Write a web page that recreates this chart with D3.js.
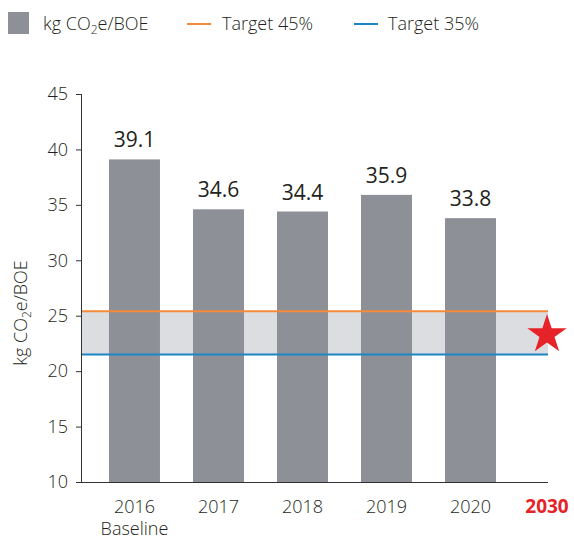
<!DOCTYPE html>
<html><head><meta charset="utf-8">
<script src="https://cdn.jsdelivr.net/npm/d3@7"></script>
<style>
body{margin:0;background:#fff;}
text{font-family:"Open Sans","Noto Sans",sans-serif;}
</style></head>
<body><svg id="c" width="574" height="540"></svg>
<script>
const categories = ["2016", "2017", "2018", "2019", "2020", "2030"];
const categorySub = ["Baseline", "", "", "", "", ""];
const values = [39.1, 34.6, 34.4, 35.9, 33.8];
const target45 = 21.5;
const target35 = 25.4;
const targetStar = 23.3;
const yTicks = [10, 15, 20, 25, 30, 35, 40, 45];

(function () {
const svg = d3.select("#c");
const mLeft = 81, mTop = 94, mBottom = 482, axisRight = 548;

const y = d3.scaleLinear().domain([10, 45]).range([mBottom, mTop]);
const x = d3.scaleBand().domain(categories).range([mLeft, 608]).paddingInner(0.393).paddingOuter(0.333);

const GRAY = "#8e9098", ORANGE = "#f58a3a", BLUE = "#1b86c6", BAND = "#dcdde0", RED = "#e52329", TXT = "#231f20";

svg.append("rect").attr("x", mLeft).attr("y", y(target35)).attr("width", axisRight - mLeft)
  .attr("height", y(target45) - y(target35)).attr("fill", BAND);

svg.selectAll("rect.bar").data(values).enter().append("rect").attr("class", "bar")
  .attr("x", (d, i) => x(categories[i])).attr("width", x.bandwidth())
  .attr("y", d => y(d)).attr("height", d => mBottom - y(d)).attr("fill", GRAY);

[[target35, ORANGE], [target45, BLUE]].forEach(([v, c]) => {
  svg.append("line").attr("x1", mLeft).attr("x2", axisRight).attr("y1", y(v)).attr("y2", y(v))
    .attr("stroke", c).attr("stroke-width", 2);
});

svg.selectAll("text.val").data(values).enter().append("text").attr("class", "val")
  .attr("x", (d, i) => x(categories[i]) + x.bandwidth() / 2).attr("y", d => y(d) - 12)
  .attr("text-anchor", "middle").attr("font-size", 21).attr("fill", TXT).text(d => d.toFixed(1));

const starX = axisRight - 1;
svg.append("path").attr("d", d3.symbol().type(d3.symbolStar).size(480)())
  .attr("transform", `translate(${starX},${y(targetStar)})`).attr("fill", RED);

const yAxis = d3.axisLeft(y).tickValues(yTicks).tickSize(5).tickPadding(8);
const gy = svg.append("g").attr("transform", `translate(${mLeft},0)`).call(yAxis);
gy.select(".domain").remove();
gy.selectAll("line").attr("stroke", "#333");
gy.selectAll("text").attr("font-size", 18).attr("font-weight", 300).attr("fill", TXT)
  .attr("font-family", "'Open Sans',sans-serif");
svg.append("line").attr("x1", mLeft + 0.5).attr("x2", mLeft + 0.5).attr("y1", mTop).attr("y2", mBottom)
  .attr("stroke", "#333").attr("stroke-width", 1);
svg.append("line").attr("x1", mLeft).attr("x2", axisRight).attr("y1", mBottom + 0.5).attr("y2", mBottom + 0.5)
  .attr("stroke", "#333").attr("stroke-width", 1);

const last = categories.length - 1;
const xl = svg.selectAll("g.xl").data(categories).enter().append("g").attr("class", "xl")
  .attr("transform", (d, i) => `translate(${i === last ? starX : x(d) + x.bandwidth() / 2},0)`);
xl.append("text").attr("y", 513).attr("text-anchor", "middle")
  .attr("font-size", (d, i) => i === last ? 19 : 18)
  .attr("font-weight", (d, i) => i === last ? 700 : 300)
  .attr("fill", (d, i) => i === last ? RED : TXT).text(d => d);
xl.append("text").attr("y", 535).attr("text-anchor", "middle").attr("font-size", 18)
  .attr("font-weight", 300).attr("fill", TXT).text((d, i) => categorySub[i]);

const yt = svg.append("text").attr("transform", "translate(27,313) rotate(-90)").attr("text-anchor", "middle")
  .attr("font-size", 18).attr("font-weight", 300).attr("fill", TXT);
yt.append("tspan").text("kg CO");
yt.append("tspan").attr("font-size", 12).attr("dy", 4).text("2");
yt.append("tspan").attr("dy", -4).text("e/BOE");

svg.append("rect").attr("x", 8).attr("y", 12).attr("width", 21).attr("height", 22).attr("fill", GRAY);
const lt = svg.append("text").attr("x", 43).attr("y", 30).attr("font-size", 18).attr("font-weight", 300).attr("fill", TXT);
lt.append("tspan").text("kg CO");
lt.append("tspan").attr("font-size", 12).attr("dy", 4).text("2");
lt.append("tspan").attr("dy", -4).text("e/BOE");
[[187, ORANGE, "Target 45%", 222], [354, BLUE, "Target 35%", 388]].forEach(([lx, c, t, tx]) => {
  svg.append("line").attr("x1", lx).attr("x2", lx + 24).attr("y1", 24).attr("y2", 24).attr("stroke", c).attr("stroke-width", 2);
  svg.append("text").attr("x", tx).attr("y", 30).attr("font-size", 18).attr("font-weight", 300).attr("fill", TXT).text(t);
});
})();
</script></body></html>
